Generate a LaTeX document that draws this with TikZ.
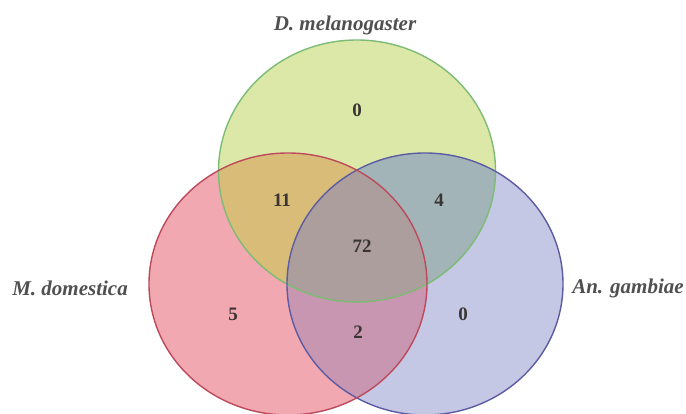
\documentclass[tikz,border=0pt]{standalone}
\usepackage{fontspec}
\setmainfont{Liberation Serif}
\definecolor{gfill}{HTML}{DCE8A8}
\definecolor{rfill}{HTML}{F2A8B0}
\definecolor{bfill}{HTML}{C4C8E4}
\definecolor{grfill}{HTML}{D8BC78}
\definecolor{gbfill}{HTML}{A2B4B8}
\definecolor{rbfill}{HTML}{C896B0}
\definecolor{allfill}{HTML}{AC9E9C}
\definecolor{gline}{HTML}{7CBC74}
\definecolor{rline}{HTML}{BC4A5C}
\definecolor{bline}{HTML}{5C5CA4}
\definecolor{numcol}{HTML}{3A3434}
\definecolor{labcol}{HTML}{505050}
\tikzset{
  num/.style={text=numcol,font=\fontsize{19}{19}\selectfont\bfseries,inner sep=0pt},
  lab/.style={text=labcol,font=\fontsize{21}{21}\selectfont\bfseries\itshape,inner sep=0pt},
  border/.style={line width=1.4pt}
}
\begin{document}
\begin{tikzpicture}[x=1pt,y=-1pt]
\useasboundingbox (0,0) rectangle (686,414);
\fill[white] (0,0) rectangle (686,414);
\def\G{(357,171) ellipse [x radius=138.5pt, y radius=131pt]}
\def\R{(288,284) ellipse [x radius=139pt, y radius=131pt]}
\def\B{(425,284) ellipse [x radius=138pt, y radius=131pt]}
\fill[gfill] \G;
\fill[rfill] \R;
\fill[bfill] \B;
\begin{scope}\clip \G; \fill[grfill] \R; \end{scope}
\begin{scope}\clip \G; \fill[gbfill] \B; \end{scope}
\begin{scope}\clip \R; \fill[rbfill] \B; \end{scope}
\begin{scope}\clip \G; \clip \R; \fill[allfill] \B; \end{scope}
\draw[border,gline] \G;
\draw[border,bline] \B;
\draw[border,rline] \R;
\node[lab] (lg) at (345,25) {D. melanogaster};
\node[lab] (lr) at (70,288) {M. domestica};
\node[lab] (lb) at (628,288) {An. gambiae};
\node[num] (n0g) at (357,110) {0};
\node[num] (n11) at (282,200) {11};
\node[num] (n4) at (439,200) {4};
\node[num] (n72) at (362,246) {72};
\node[num] (n5) at (233,314) {5};
\node[num] (n2) at (358,332) {2};
\node[num] (n0b) at (463,314) {0};
\end{tikzpicture}
\end{document}
